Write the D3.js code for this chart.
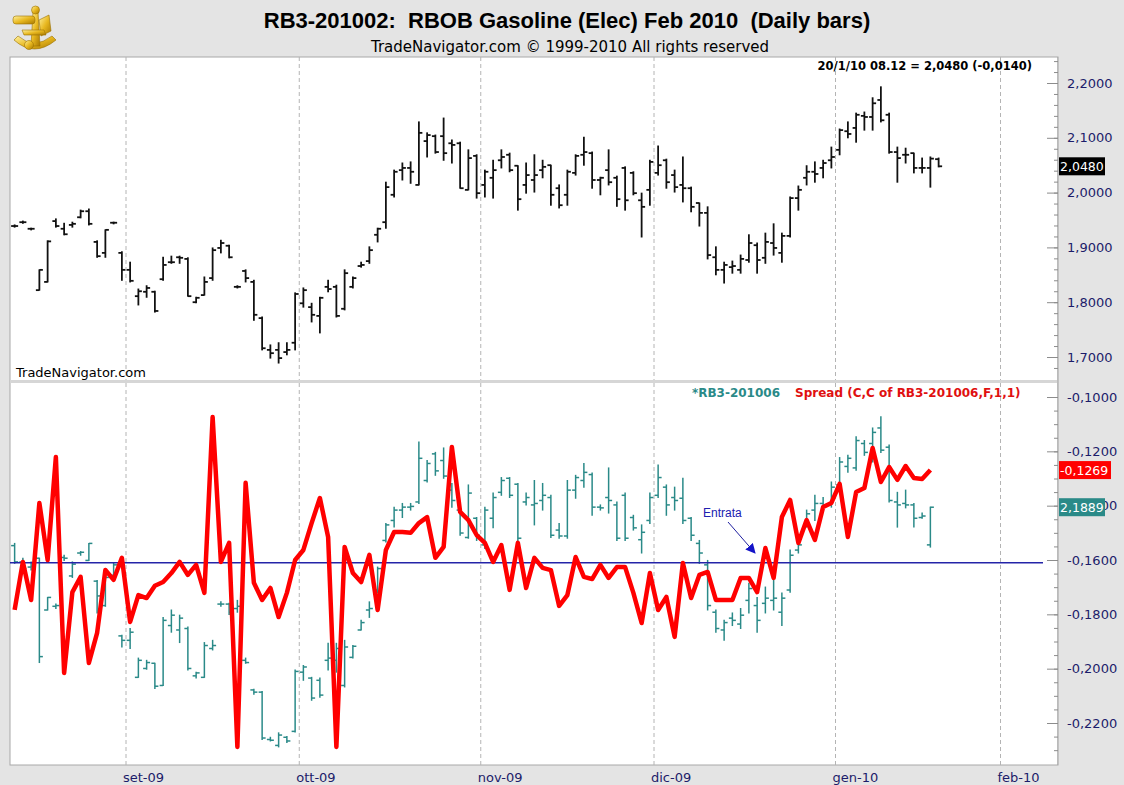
<!DOCTYPE html>
<html>
<head>
<meta charset="utf-8">
<script src="https://cdn.jsdelivr.net/npm/d3@7"></script>
<style>
  html, body { margin: 0; padding: 0; background: #e4e4e4; }
  svg { display: block; font-family: "Liberation Sans", Arial, sans-serif; }
</style>
</head>
<body>
<div id="chart"></div>
<script>
// RB3-201002 daily bars (Feb 2010 RBOB), one entry per trading day from 12 Aug 2009
const topOpen = [1.939,1.946,1.934,1.822,1.837,1.948,1.934,1.941,1.955,1.966,
  1.910,1.890,1.945,1.890,1.859,1.811,1.819,1.819,1.842,1.873,
  1.882,1.879,1.800,1.813,1.844,1.899,1.903,1.828,1.857,1.837,
  1.771,1.713,1.713,1.709,1.726,1.798,1.791,1.775,1.828,1.828,
  1.788,1.828,1.866,1.875,1.923,1.946,1.996,2.041,2.045,2.014,
  2.094,2.103,2.103,2.090,2.090,2.005,2.067,2.014,2.027,2.059,
  2.069,2.049,2.014,2.023,2.041,2.050,2.008,1.996,2.036,2.069,
  2.072,2.023,2.041,2.027,2.045,2.036,1.986,2.005,2.036,2.059,
  2.032,2.014,2.008,1.981,1.963,1.882,1.859,1.864,1.859,1.877,
  1.904,1.881,1.908,1.890,1.921,1.990,2.027,2.038,2.045,2.059,
  2.078,2.112,2.118,2.140,2.138,2.169,2.142,2.074,2.069,2.072,
  2.045,2.045,2.061];
const topHigh = [1.941,1.948,1.935,1.859,1.912,1.952,1.944,1.946,1.968,1.970,
  1.912,1.932,1.946,1.892,1.873,1.824,1.830,1.820,1.882,1.884,
  1.884,1.881,1.809,1.846,1.899,1.913,1.904,1.830,1.859,1.840,
  1.773,1.722,1.726,1.726,1.817,1.826,1.798,1.809,1.840,1.831,
  1.859,1.846,1.873,1.901,1.935,2.019,2.041,2.054,2.056,2.129,
  2.109,2.105,2.136,2.096,2.092,2.078,2.069,2.041,2.059,2.078,
  2.072,2.049,2.054,2.069,2.059,2.050,2.014,2.041,2.069,2.101,
  2.074,2.028,2.078,2.030,2.047,2.038,1.999,2.059,2.085,2.061,
  2.041,2.065,2.010,1.981,1.974,1.901,1.873,1.875,1.886,1.923,
  1.908,1.926,1.943,1.926,1.992,2.012,2.049,2.056,2.059,2.083,
  2.116,2.129,2.145,2.147,2.173,2.193,2.145,2.083,2.081,2.072,
  2.063,2.065,2.063];
const topLow = [1.937,1.944,1.932,1.822,1.837,1.937,1.923,1.937,1.954,1.941,
  1.882,1.882,1.943,1.840,1.837,1.795,1.809,1.782,1.840,1.871,
  1.871,1.811,1.799,1.813,1.840,1.890,1.881,1.826,1.837,1.767,
  1.713,1.698,1.689,1.704,1.713,1.791,1.764,1.744,1.819,1.773,
  1.786,1.826,1.864,1.871,1.910,1.935,1.992,2.023,2.017,2.014,
  2.065,2.072,2.059,2.054,2.008,2.005,1.990,1.992,1.990,2.045,
  2.038,1.968,1.999,2.001,2.027,1.977,1.972,1.977,2.032,2.050,
  2.008,1.996,2.014,1.975,1.968,1.996,1.919,1.977,2.032,2.008,
  2.001,1.983,1.965,1.939,1.879,1.850,1.835,1.853,1.853,1.873,
  1.853,1.871,1.886,1.873,1.919,1.968,2.014,2.019,2.027,2.045,
  2.069,2.100,2.092,2.114,2.114,2.129,2.072,2.019,2.054,2.036,
  2.036,2.010,2.047];
const topClose = [1.939,1.946,1.934,1.859,1.911,1.939,1.924,1.943,1.966,1.943,
  1.884,1.932,1.945,1.859,1.839,1.820,1.826,1.784,1.868,1.873,
  1.881,1.811,1.808,1.837,1.895,1.908,1.882,1.828,1.844,1.777,
  1.716,1.707,1.698,1.713,1.815,1.822,1.777,1.808,1.824,1.775,
  1.853,1.844,1.868,1.895,1.934,2.010,2.038,2.045,2.038,2.109,
  2.105,2.074,2.072,2.087,2.008,2.063,1.999,2.038,2.041,2.065,
  2.041,1.988,2.032,2.032,2.047,1.996,1.977,2.038,2.067,2.074,
  2.023,2.027,2.019,1.988,1.986,1.999,1.974,2.056,2.050,2.019,
  2.010,2.008,1.974,1.963,1.886,1.859,1.868,1.866,1.879,1.908,
  1.877,1.910,1.899,1.921,1.990,2.005,2.038,2.034,2.054,2.065,
  2.114,2.107,2.142,2.138,2.163,2.132,2.074,2.063,2.069,2.045,
  2.045,2.062,2.048];

// *RB3-201006 overlay bars (Jun 2010), same days
const tealOpen = [2.137,2.115,2.108,2.120,2.050,2.055,2.121,2.096,2.127,2.117,
  2.089,2.056,2.097,2.015,2.009,1.959,1.971,1.978,1.948,2.029,
  2.023,2.025,1.961,1.959,1.998,2.058,2.058,2.052,1.982,1.942,
  1.939,1.875,1.867,1.878,1.886,1.966,1.958,1.955,1.982,1.982,
  1.948,1.986,2.023,2.050,2.077,2.144,2.171,2.185,2.189,2.196,
  2.225,2.261,2.252,2.212,2.185,2.148,2.174,2.138,2.174,2.209,
  2.228,2.220,2.196,2.192,2.198,2.202,2.158,2.150,2.212,2.225,
  2.233,2.189,2.202,2.192,2.205,2.175,2.145,2.171,2.205,2.216,
  2.202,2.201,2.174,2.140,2.111,2.047,2.023,2.039,2.031,2.063,
  2.056,2.059,2.063,2.047,2.077,2.131,2.166,2.185,2.194,2.192,
  2.219,2.244,2.242,2.275,2.275,2.296,2.270,2.196,2.194,2.192,
  2.175,2.138];
const tealHigh = [2.140,2.120,2.115,2.120,2.067,2.058,2.124,2.115,2.129,2.140,
  2.090,2.101,2.113,2.016,2.025,1.985,1.982,1.978,2.040,2.050,
  2.043,2.027,1.966,2.006,2.009,2.061,2.059,2.063,1.985,1.943,
  1.940,1.878,1.884,1.879,1.969,1.975,1.959,1.958,2.005,2.005,
  2.009,2.002,2.036,2.061,2.108,2.167,2.189,2.194,2.194,2.277,
  2.252,2.263,2.269,2.221,2.185,2.219,2.175,2.189,2.208,2.229,
  2.229,2.221,2.208,2.225,2.221,2.205,2.167,2.225,2.232,2.248,
  2.235,2.192,2.242,2.196,2.208,2.178,2.165,2.208,2.246,2.219,
  2.216,2.228,2.175,2.144,2.117,2.050,2.036,2.046,2.052,2.086,
  2.067,2.081,2.090,2.073,2.131,2.144,2.185,2.205,2.202,2.223,
  2.256,2.259,2.284,2.279,2.296,2.311,2.273,2.209,2.212,2.194,
  2.181,2.189];
const tealLow = [2.113,2.104,2.104,1.979,2.050,2.052,2.117,2.094,2.124,2.117,
  2.046,2.055,2.093,2.000,1.998,1.959,1.970,1.944,1.948,2.020,
  2.006,1.969,1.958,1.959,1.996,2.055,2.044,2.047,1.978,1.936,
  1.875,1.873,1.865,1.871,1.885,1.955,1.928,1.932,1.969,1.966,
  1.946,1.985,2.023,2.040,2.073,2.142,2.162,2.175,2.185,2.194,
  2.223,2.232,2.228,2.189,2.151,2.147,2.144,2.133,2.161,2.205,
  2.202,2.142,2.192,2.165,2.185,2.148,2.147,2.147,2.201,2.216,
  2.178,2.185,2.181,2.144,2.144,2.158,2.127,2.167,2.202,2.178,
  2.185,2.167,2.144,2.113,2.050,2.020,2.009,2.029,2.025,2.046,
  2.020,2.046,2.050,2.029,2.074,2.127,2.162,2.171,2.188,2.189,
  2.216,2.236,2.239,2.259,2.250,2.263,2.196,2.162,2.188,2.162,
  2.174,2.135];
const tealClose = [2.115,2.106,2.109,1.987,2.067,2.056,2.120,2.112,2.128,2.140,
  2.069,2.094,2.111,2.009,2.020,1.982,1.979,1.947,2.036,2.043,
  2.039,1.971,1.965,2.002,2.002,2.058,2.047,2.055,1.979,1.939,
  1.877,1.874,1.881,1.873,1.967,1.973,1.931,1.935,1.985,1.998,
  2.000,2.001,2.033,2.052,2.106,2.165,2.185,2.189,2.190,2.255,
  2.248,2.238,2.231,2.198,2.154,2.208,2.151,2.185,2.202,2.225,
  2.205,2.147,2.202,2.194,2.205,2.151,2.150,2.212,2.229,2.236,
  2.189,2.188,2.198,2.147,2.147,2.161,2.155,2.202,2.229,2.192,
  2.198,2.171,2.151,2.127,2.056,2.025,2.033,2.036,2.043,2.079,
  2.036,2.066,2.066,2.066,2.124,2.138,2.180,2.194,2.192,2.216,
  2.250,2.255,2.279,2.263,2.290,2.266,2.198,2.192,2.192,2.174,
  2.177,2.1889];

// Spread (C,C of RB3-201006,F,1,1)
const spread = [-0.1784,-0.1607,-0.1747,-0.1390,-0.1600,-0.1221,-0.2016,-0.1718,-0.1662,-0.1979,
  -0.1868,-0.1637,-0.1673,-0.1592,-0.1828,-0.1729,-0.1740,-0.1695,-0.1681,-0.1648,
  -0.1607,-0.1655,-0.1618,-0.1721,-0.1074,-0.1607,-0.1537,-0.2288,-0.1316,-0.1684,
  -0.1747,-0.1703,-0.1810,-0.1721,-0.1600,-0.1563,-0.1464,-0.1372,-0.1515,-0.2288,
  -0.1552,-0.1648,-0.1681,-0.1581,-0.1784,-0.1563,-0.1497,-0.1497,-0.1500,-0.1464,
  -0.1442,-0.1592,-0.1552,-0.1184,-0.1423,-0.1453,-0.1508,-0.1537,-0.1607,-0.1545,
  -0.1710,-0.1537,-0.1703,-0.1592,-0.1629,-0.1637,-0.1769,-0.1729,-0.1589,-0.1662,
  -0.1670,-0.1618,-0.1666,-0.1626,-0.1626,-0.1721,-0.1832,-0.1648,-0.1784,-0.1736,
  -0.1883,-0.1611,-0.1740,-0.1655,-0.1644,-0.1747,-0.1747,-0.1747,-0.1666,-0.1666,
  -0.1718,-0.1556,-0.1666,-0.1442,-0.1379,-0.1537,-0.1453,-0.1526,-0.1405,-0.1390,
  -0.1320,-0.1515,-0.1350,-0.1335,-0.1188,-0.1313,-0.1258,-0.1305,-0.1254,-0.1298,
  -0.1302,-0.1269];

const entryLevel = -0.161;

// month markers: label and index of first trading day
const monthLabels = ["set-09", "ott-09", "nov-09", "dic-09", "gen-10", "feb-10"];
const monthStart = [14, 35, 57, 78, 100, 120];

const topTicks = [1.7, 1.8, 1.9, 2.0, 2.1, 2.2];
const spreadTicks = [-0.10, -0.12, -0.14, -0.16, -0.18, -0.20, -0.22];

const W = 1124, H = 785;
const plotL = 10, plotR = 1058;
const topPane = { y0: 57, y1: 380 };
const botPane = { y0: 383, y1: 765 };
const wideFont = "DejaVu Sans, Verdana, sans-serif";

const loc = d3.formatLocale({ decimal: ",", thousands: ".", grouping: [3], currency: ["", ""], minus: "-" });
const fmt4 = loc.format(".4f");

const svg = d3.select("#chart").append("svg").attr("width", W).attr("height", H);

// background + panes
svg.append("rect").attr("width", W).attr("height", H).attr("fill", "#e4e4e4");
svg.append("rect").attr("x", plotL).attr("y", topPane.y0).attr("width", plotR - plotL)
  .attr("height", botPane.y1 - topPane.y0).attr("fill", "#fff").attr("stroke", "#a8a8a8");
svg.append("rect").attr("x", plotL).attr("y", topPane.y1).attr("width", plotR - plotL)
  .attr("height", botPane.y0 - topPane.y1).attr("fill", "#d6d6d6");

const defs = svg.append("defs");
defs.append("clipPath").attr("id", "clipTop").append("rect")
  .attr("x", plotL).attr("y", topPane.y0).attr("width", plotR - plotL).attr("height", topPane.y1 - topPane.y0);
defs.append("clipPath").attr("id", "clipBot").append("rect")
  .attr("x", plotL).attr("y", botPane.y0).attr("width", plotR - plotL).attr("height", botPane.y1 - botPane.y0);

// scales
const x = d3.scaleLinear().domain([0, 127]).range([10.5, 1058.25]);
const yTop = d3.scaleLinear().domain([1.7, 2.2]).range([357, 83]);
const ySpread = d3.scaleLinear().domain([-0.22, -0.10]).range([723, 397]);
const yTeal = d3.scaleLinear().domain([1.85, 2.35]).range([758, 388]);

// month grid lines
monthStart.forEach((m, i) => {
  [topPane, botPane].forEach((p) => {
    svg.append("line")
      .attr("x1", x(m)).attr("x2", x(m))
      .attr("y1", p.y0).attr("y2", p.y1)
      .attr("stroke", "#b4b4b4").attr("stroke-dasharray", "4,3");
  });
  svg.append("text").attr("x", x(m) - 3).attr("y", 782)
    .attr("font-family", wideFont).attr("font-size", 13).attr("fill", "#1c1c6a").text(monthLabels[i]);
});

// OHLC bar drawer
function ohlc(g, o, h, l, c, y, color, w) {
  const bars = g.selectAll("g.bar").data(d3.range(o.length)).join("g").attr("class", "bar")
    .attr("stroke", color).attr("stroke-width", w);
  bars.append("line")
    .attr("x1", (i) => x(i + 0.5)).attr("x2", (i) => x(i + 0.5))
    .attr("y1", (i) => y(h[i]) - 0.5).attr("y2", (i) => y(l[i]) + 0.5);
  bars.append("line")
    .attr("x1", (i) => x(i + 0.5) - 3.5).attr("x2", (i) => x(i + 0.5))
    .attr("y1", (i) => y(o[i])).attr("y2", (i) => y(o[i]));
  bars.append("line")
    .attr("x1", (i) => x(i + 0.5)).attr("x2", (i) => x(i + 0.5) + 3.5)
    .attr("y1", (i) => y(c[i])).attr("y2", (i) => y(c[i]));
}

const gTop = svg.append("g").attr("clip-path", "url(#clipTop)");
ohlc(gTop, topOpen, topHigh, topLow, topClose, yTop, "#111", 1.8);

const gBot = svg.append("g").attr("clip-path", "url(#clipBot)");
ohlc(gBot.append("g"), tealOpen, tealHigh, tealLow, tealClose, yTeal, "#2a8a88", 1.5);

gBot.append("line")
  .attr("x1", plotL).attr("x2", 1043)
  .attr("y1", ySpread(entryLevel)).attr("y2", ySpread(entryLevel))
  .attr("stroke", "#2424a8").attr("stroke-width", 1.5);

const line = d3.line().x((d, i) => x(i + 0.5)).y((d) => ySpread(d));
gBot.append("path").datum(spread).attr("d", line)
  .attr("fill", "none").attr("stroke", "#ff0000").attr("stroke-width", 4.5)
  .attr("stroke-linejoin", "round");

// Entrata annotation
svg.append("text").attr("x", 703).attr("y", 517).attr("font-size", 12)
  .attr("fill", "#2020b0").text("Entrata");
defs.append("marker").attr("id", "arrow").attr("viewBox", "0 0 10 10")
  .attr("refX", 9).attr("refY", 5).attr("markerWidth", 10).attr("markerHeight", 10)
  .attr("markerUnits", "userSpaceOnUse").attr("orient", "auto")
  .append("path").attr("d", "M0,0 L10,5 L0,10 Z").attr("fill", "#1414c8");
svg.append("line").attr("x1", 728).attr("y1", 522).attr("x2", 755).attr("y2", 553)
  .attr("stroke", "#2020a0").attr("stroke-width", 1).attr("marker-end", "url(#arrow)");

// right axes
svg.append("rect").attr("x", plotR).attr("y", topPane.y0).attr("width", W - plotR)
  .attr("height", botPane.y1 - topPane.y0).attr("fill", "#e4e4e4");
svg.append("line").attr("x1", plotR).attr("x2", plotR)
  .attr("y1", topPane.y0).attr("y2", botPane.y1).attr("stroke", "#a0a0a0");

function rightAxis(scale, major, minorStep, domain, pane) {
  const minor = d3.range(domain[0], domain[1] + 1e-9, minorStep);
  const gMinor = svg.append("g").attr("transform", `translate(${plotR},0)`)
    .call(d3.axisRight(scale).tickValues(minor).tickSize(-4).tickFormat(""));
  const gMajor = svg.append("g").attr("transform", `translate(${plotR},0)`)
    .call(d3.axisRight(scale).tickValues(major).tickSize(-11).tickPadding(9).tickFormat(fmt4));
  [gMinor, gMajor].forEach((g) => {
    g.select(".domain").remove();
    g.selectAll(".tick line").attr("stroke", "#8c8c8c");
    g.selectAll(".tick").filter(function () {
      const t = d3.select(this).attr("transform");
      const yy = +t.split(",")[1].replace(")", "");
      return yy < pane.y0 + 2 || yy > pane.y1 - 2;
    }).remove();
  });
  gMajor.selectAll("text").attr("font-size", 13).attr("fill", "#1c1c6a")
    .attr("font-family", wideFont);
}
rightAxis(yTop, topTicks, 0.02, [1.64, 2.26], topPane);
rightAxis(ySpread, spreadTicks, 0.005, [-0.24, -0.09], botPane);

// last-value boxes
function valueBox(yy, label, bg, w) {
  svg.append("rect").attr("x", 1059).attr("y", yy - 9).attr("width", w).attr("height", 18).attr("fill", bg);
  svg.append("text").attr("x", 1060).attr("y", yy + 4.5).attr("font-size", 12.5)
    .attr("font-family", wideFont).attr("fill", "#fff").text(label);
}
valueBox(yTop(topClose[topClose.length - 1]), fmt4(topClose[topClose.length - 1]), "#000", 46);
valueBox(ySpread(spread[spread.length - 1]), fmt4(spread[spread.length - 1]), "#f00", 52);
valueBox(yTeal(tealClose[tealClose.length - 1]), fmt4(tealClose[tealClose.length - 1]), "#2a8a88", 46);

// pane captions
const last = topClose.length - 1;
svg.append("text").attr("x", 1032).attr("y", 70).attr("text-anchor", "end")
  .attr("font-family", wideFont).attr("font-size", 11.5).attr("font-weight", "bold")
  .text(`20/1/10 08.12 = ${fmt4(topClose[last])} (${fmt4(topClose[last] - topClose[last - 1])})`);
svg.append("text").attr("x", 16).attr("y", 377).attr("font-family", wideFont)
  .attr("font-size", 13).text("TradeNavigator.com");
svg.append("text").attr("x", 780).attr("y", 397).attr("text-anchor", "end")
  .attr("font-family", wideFont).attr("font-size", 12).attr("font-weight", "bold")
  .attr("fill", "#2a8a88").text("*RB3-201006");
svg.append("text").attr("x", 795).attr("y", 397)
  .attr("font-family", wideFont).attr("font-size", 12).attr("font-weight", "bold")
  .attr("fill", "#e01010").text("Spread (C,C of RB3-201006,F,1,1)");

// title block
svg.append("text").attr("x", 567).attr("y", 28).attr("text-anchor", "middle")
  .attr("font-size", 22).attr("font-weight", "bold").style("white-space", "pre")
  .text("RB3-201002:  RBOB Gasoline (Elec) Feb 2010  (Daily bars)");
svg.append("text").attr("x", 570).attr("y", 52).attr("text-anchor", "middle")
  .attr("font-family", wideFont).attr("font-size", 15)
  .text("TradeNavigator.com \u00a9 1999-2010 All rights reserved");

// logo (sextant)
const grad = defs.append("linearGradient").attr("id", "gold").attr("x1", 0).attr("y1", 0).attr("x2", 1).attr("y2", 1);
grad.append("stop").attr("offset", "0%").attr("stop-color", "#fff2a0");
grad.append("stop").attr("offset", "50%").attr("stop-color", "#e8b820");
grad.append("stop").attr("offset", "100%").attr("stop-color", "#a87800");
const logo = svg.append("g").attr("fill", "url(#gold)").attr("stroke", "#9a7000").attr("stroke-width", 0.6);
logo.append("path").attr("d", "M14,40 Q34,58 56,40 L52,36 Q34,50 18,36 Z");
logo.append("path").attr("d", "M33,12 L38,12 L40,46 L31,46 Z");
logo.append("rect").attr("x", 13).attr("y", 16).attr("width", 22).attr("height", 8).attr("rx", 3);
logo.append("circle").attr("cx", 35.5).attr("cy", 10).attr("r", 4);
logo.append("path").attr("d", "M39,20 L49,15 L51,31 L41,36 Z");
logo.append("path").attr("d", "M22,30 L44,30 L46,35 L24,35 Z");
logo.append("circle").attr("cx", 29).attr("cy", 45).attr("r", 4.5);
</script>
</body>
</html>
